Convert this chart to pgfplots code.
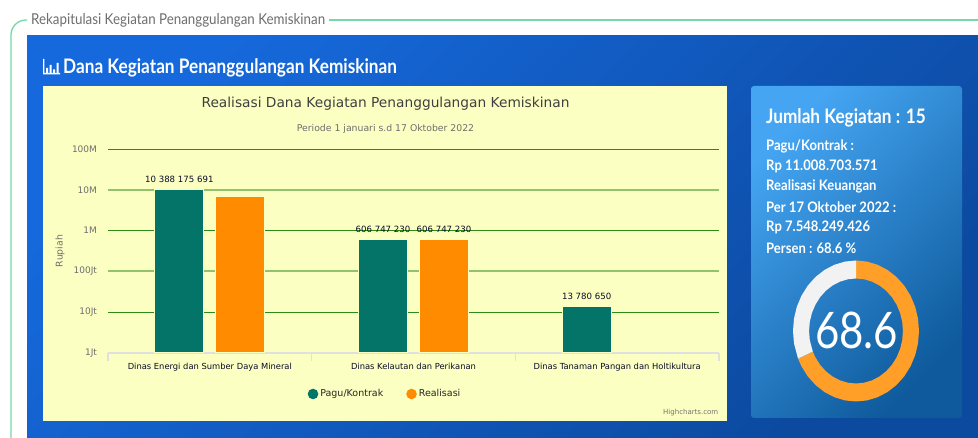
\documentclass[border=0pt]{standalone}
\usepackage{fontspec}
\usepackage{pgfplots}
\pgfplotsset{compat=1.18}
\setmainfont{DejaVu Sans}
\newfontfamily\lato{Lato}
\newfontfamily\latoA[FakeStretch=0.89]{Lato}
\newfontfamily\latoB[FakeStretch=0.86,BoldFont={Lato Bold}]{Lato}
\newfontfamily\latoC[FakeStretch=0.90,BoldFont={Lato Bold}]{Lato}
\definecolor{teal1}{HTML}{047468}
\definecolor{org1}{HTML}{FF8C00}
\definecolor{org2}{HTML}{FF9F27}
\definecolor{chartbg}{HTML}{FBFFC1}
\definecolor{griddark}{HTML}{2E8B14}
\definecolor{gridlight}{HTML}{93C26C}
\definecolor{lbl}{HTML}{0A0A2A}
\definecolor{gry}{HTML}{6E6E6E}
\definecolor{frame}{HTML}{74D8A8}
\definecolor{panA}{HTML}{1669DC}
\definecolor{panB}{HTML}{0C4AA0}
\definecolor{boxA}{HTML}{45A5F2}
\definecolor{boxB}{HTML}{0E5A9C}
\begin{document}
\begin{tikzpicture}
\path[use as bounding box] (0pt,0pt) rectangle (978pt,438pt);
\clip (0pt,0pt) rectangle (978pt,438pt);
\begin{scope}[x=1pt,y=1pt]
\fill[white] (0,0) rectangle (978,438);
% fieldset
\draw[frame,line width=1.3pt] (27,418) -- (26,418) arc[start angle=90,end angle=180,radius=15] -- (11,0);
\draw[frame,line width=1.3pt] (329,418) -- (978,418);
\node[anchor=west,inner sep=0pt,text=gry] at (31,417.5) {\latoA\fontsize{15}{15}\selectfont Rekapitulasi Kegiatan Penanggulangan Kemiskinan};
% panel
\shade[top color=panA,bottom color=panB,shading angle=45] (27,0) rectangle (978,402.5);
% heading icon
\fill[white] (43,379) rectangle (44.3,365) (43,365) rectangle (60,363.7);
\fill[white] (46,365) rectangle (48,370) (49.5,365) rectangle (51.5,373) (53,365) rectangle (55,368.5) (56.5,365) rectangle (58.5,375);
\node[anchor=west,inner sep=0pt,text=white] at (63,370.5) {\latoB\bfseries\fontsize{20}{20}\selectfont Dana Kegiatan Penanggulangan Kemiskinan};
% chart bg
\fill[chartbg] (43,17) rectangle (727,352);
\node[text=black!75,inner sep=0pt] at (385.5,334) {\fontsize{13.75}{13.75}\selectfont Realisasi Dana Kegiatan Penanggulangan Kemiskinan};
\node[text=gry,inner sep=0pt] at (385.5,309) {\fontsize{9.3}{9.3}\selectfont Periode 1 januari s.d 17 Oktober 2022};
\node[text=gry,inner sep=0pt,rotate=90] at (60,187) {\fontsize{9.3}{9.3}\selectfont Rupiah};
\node[text=black!55,inner sep=0pt,anchor=east] at (718.5,25) {\fontsize{7}{7}\selectfont Highcharts.com};
% right box
\shade[top color=boxA,bottom color=boxB,shading angle=45,rounded corners=3pt] (751,20) rectangle (962,352);
\node[anchor=west,inner sep=0pt,text=white] at (766,320) {\latoB\bfseries\fontsize{20}{20}\selectfont Jumlah Kegiatan : 15};
\foreach \yy/\tx in {292/{Pagu/Kontrak :},272/{Rp 11.008.703.571},252/{Realisasi Keuangan},231/{Per 17 Oktober 2022 :},211/{Rp 7.548.249.426},190/{Persen : 68.6 \%}}{
  \node[anchor=west,inner sep=0pt,text=white] at (766,\yy) {\latoC\bfseries\fontsize{14.5}{14.5}\selectfont \tx};
}
\end{scope}
% main chart
\begin{axis}[
  at={(108pt,85pt)},anchor=south west,
  scale only axis,width=611pt,height=204pt,
  ymode=log,log origin=infty,
  ymin=1e6,ymax=1e11,xmin=-0.5,xmax=2.5,
  ybar,bar width=49pt,
  axis x line*=bottom,axis y line*=left,
  axis line style={-},
  y axis line style={draw=none},
  x axis line style={draw=black!12,line width=1.2pt},
  xtick={0,1,2},
  xticklabels={Dinas Energi dan Sumber Daya Mineral,Dinas Kelautan dan Perikanan,Dinas Tanaman Pangan dan Holtikultura},
  minor xtick={-0.5,0.5,1.5,2.5},
  xminorgrids=false,
  major tick length=0pt,
  minor tick length=8pt,
  tick align=outside,
  minor tick style={draw=black!12,line width=1.2pt},
  xticklabel style={font=\fontsize{8.35}{8.35}\selectfont,text=lbl,yshift=-7pt},
  ytick={1e6,1e7,1e9,1e11},
  yticklabels={1Jt,10Jt,1M,100M},
  extra y ticks={1e8,1e10},
  extra y tick labels={100Jt,10M},
  extra y tick style={grid style={draw=gridlight,line width=1.8pt}},
  ymajorgrids,
  grid style={draw=griddark,line width=0.8pt},
  yticklabel style={font=\fontsize{9}{9}\selectfont,text=gry,xshift=-7.5pt},
  /pgf/number format/assume math mode=true,
  nodes near coords,
  point meta=explicit symbolic,
  nodes near coords style={font=\fontsize{8.6}{8.6}\selectfont,text=lbl,inner sep=0pt,yshift=6pt},
  legend columns=2,
  legend cell align=left,
  legend style={at={(0.4534,-0.201)},anchor=center,draw=none,fill=none,font=\fontsize{9.5}{9.5}\selectfont,text=black!85,
    /tikz/every even column/.append style={column sep=21pt}},
  legend image code/.code={\fill[#1,draw=none] (0pt,0pt) circle (5.3pt);},
]
\addplot[fill=teal1,draw=chartbg,line width=1pt,bar shift=-30.5pt] coordinates {
 (0,10388175691) [10 388 175 691]
 (1,606747230) [606 747 230]
 (2,13780650) [13 780 650]
};
\addplot[fill=org1,draw=chartbg,line width=1pt,bar shift=30.5pt] coordinates {
 (0,6941502196) []
 (1,606747230) [606 747 230]
};
\legend{Pagu/Kontrak,Realisasi}
\end{axis}
% donut
\begin{axis}[
  at={(856pt,107pt)},anchor=center,
  scale only axis,width=126pt,height=141pt,
  xmin=-1,xmax=1,ymin=-1,ymax=1,hide axis,clip=false,
]
\addplot[data cs=polar,fill=org2,draw=none,no marks] coordinates {
 (90,1)(80,1)(70,1)(60,1)(50,1)(40,1)(30,1)(20,1)(10,1)(0,1)(-10,1)(-20,1)(-30,1)(-40,1)(-50,1)(-60,1)(-70,1)(-80,1)(-90,1)(-100,1)(-110,1)(-120,1)(-130,1)(-140,1)(-150,1)(-157,1)
 (-157,0.745)(-150,0.745)(-140,0.745)(-130,0.745)(-120,0.745)(-110,0.745)(-100,0.745)(-90,0.745)(-80,0.745)(-70,0.745)(-60,0.745)(-50,0.745)(-40,0.745)(-30,0.745)(-20,0.745)(-10,0.745)(0,0.745)(10,0.745)(20,0.745)(30,0.745)(40,0.745)(50,0.745)(60,0.745)(70,0.745)(80,0.745)(90,0.745)
};
\addplot[data cs=polar,fill=black!5,draw=none,no marks] coordinates {
 (90,1)(100,1)(110,1)(120,1)(130,1)(140,1)(150,1)(160,1)(170,1)(180,1)(190,1)(203,1)
 (203,0.745)(190,0.745)(180,0.745)(170,0.745)(160,0.745)(150,0.745)(140,0.745)(130,0.745)(120,0.745)(110,0.745)(100,0.745)(90,0.745)
};
\end{axis}
\node[text=white,inner sep=0pt] at (856.5pt,108pt) {\scalebox{1}[1.2]{\lato\fontsize{42}{42}\selectfont 68.6}};
\end{tikzpicture}
\end{document}
